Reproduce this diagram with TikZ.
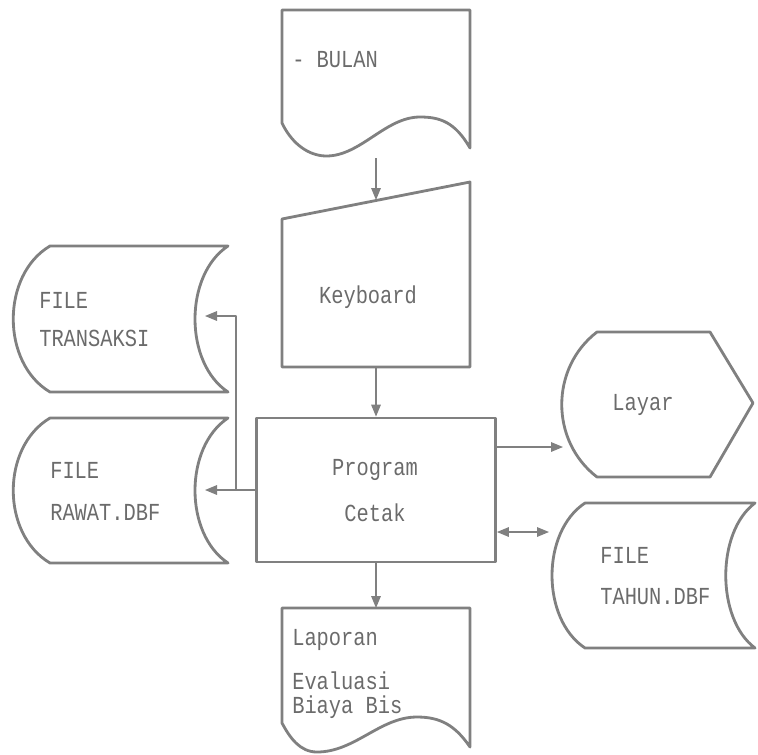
\documentclass[tikz,border=0pt]{standalone}
\usepackage{fontspec}
\usepackage{graphicx}
\setmonofont{Liberation Mono}
\usetikzlibrary{arrows.meta}

\definecolor{linegray}{gray}{0.5}
\definecolor{textgray}{gray}{0.42}
\newcommand{\dm}[1]{\scalebox{1}[1.2]{#1}}

\begin{document}
\begin{tikzpicture}[x=0.25mm, y=-0.25mm, line join=round,
  outline/.style={draw=linegray, line width=2pt},
  flow/.style={draw=linegray, line width=0.9pt, -{Triangle[length=3mm, width=2.4mm]}},
  lbl/.style={text=textgray, font=\ttfamily\fontsize{14.5}{17}\selectfont, inner sep=0pt}]
  \useasboundingbox (0,0) rectangle (758,754);

  % input document
  \draw[outline] (282,10) -- (470,10) -- (470,148)
    .. controls (455,122) and (440,117) .. (420,117)
    .. controls (385,117) and (360,157) .. (325,156)
    .. controls (305,155) and (290,140) .. (282,123) -- cycle;
  \node[lbl, anchor=west] (t-bulan) at (292,60) {\dm{- BULAN}};

  % manual input
  \draw[outline] (282,219) -- (470,182) -- (470,367) -- (282,367) -- cycle;
  \node[lbl] (t-kbd) at (368,297) {\dm{Keyboard}};

  % process
  \node[outline, minimum width=59.75mm, minimum height=36mm, inner sep=0pt] (prog) at (376,490) {};
  \node[lbl] (t-prog1) at (375,470) {\dm{Program}};
  \node[lbl] (t-prog2) at (375,513) {\dm{Cetak}};

  % stored data, left
  \draw[outline] (50,246) -- (228,246) .. controls (184,275) and (184,363) .. (228,392)
    -- (50,392) .. controls (1,363) and (1,275) .. (50,246) -- cycle;
  \node[lbl, anchor=west] (t-trn1) at (39,300) {\dm{FILE}};
  \node[lbl, anchor=west] (t-trn2) at (39,338) {\dm{TRANSAKSI}};

  \draw[outline] (50,418) -- (228,418) .. controls (184,447) and (184,534) .. (228,563)
    -- (50,563) .. controls (1,534) and (1,447) .. (50,418) -- cycle;
  \node[lbl, anchor=west] (t-raw1) at (50,470) {\dm{FILE}};
  \node[lbl, anchor=west] (t-raw2) at (50,512) {\dm{RAWAT.DBF}};

  % display
  \draw[outline] (597,332) -- (710,332) -- (753,403) -- (710,477) -- (597,477)
    .. controls (550,441) and (550,368) .. (597,332) -- cycle;
  \node[lbl] (t-lay) at (643,405) {\dm{Layar}};

  % stored data, right
  \draw[outline] (585,503) -- (755,503) .. controls (716,532) and (716,619) .. (755,648)
    -- (585,648) .. controls (541,619) and (541,532) .. (585,503) -- cycle;
  \node[lbl, anchor=west] (t-tah1) at (600,555) {\dm{FILE}};
  \node[lbl, anchor=west] (t-tah2) at (600,597) {\dm{TAHUN.DBF}};

  % output document
  \draw[outline] (282,608) -- (470,608) -- (470,747)
    .. controls (455,725) and (440,717) .. (417,717)
    .. controls (380,717) and (355,752) .. (317,752)
    .. controls (300,752) and (290,738) .. (282,723) -- cycle;
  \node[lbl, anchor=west] (t-lap1) at (292,640) {\dm{Laporan}};
  \node[lbl, anchor=west] (t-lap2) at (292,681) {\dm{Evaluasi}};
  \node[lbl, anchor=west] (t-lap3) at (292,707) {\dm{Biaya Bis}};

  % connector ends
  \coordinate (bulan-s) at (376,158);
  \coordinate (kbd-n) at (376,200);
  \coordinate (kbd-s) at (376,367);
  \coordinate (lap-n) at (376,608);
  \coordinate (lay-w) at (563,447);
  \coordinate (tah-w) at (549,532);
  \coordinate (raw-e) at (205,490);
  \coordinate (trn-e) at (205,316);
  \coordinate (branch) at (236,490);

  \draw[flow] (bulan-s) -- (kbd-n);
  \draw[flow] (kbd-s) -- (prog.north);
  \draw[flow] (prog.south) -- (lap-n);
  \draw[flow] (prog.east |- lay-w) -- (lay-w);
  \draw[flow, {Triangle[length=3mm, width=2.4mm]}-{Triangle[length=3mm, width=2.4mm]}] (prog.east |- tah-w) -- (tah-w);
  \draw[flow] (prog.west) -- (raw-e);
  \draw[flow] (branch) |- (trn-e);
\end{tikzpicture}
\end{document}
